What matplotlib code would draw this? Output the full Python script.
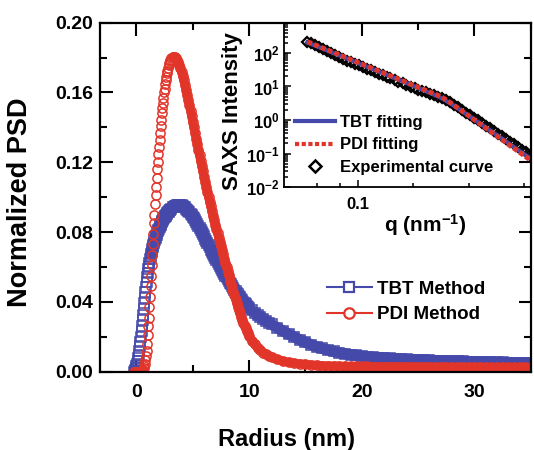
import matplotlib
matplotlib.use("Agg")
import matplotlib.pyplot as plt
from matplotlib.lines import Line2D
from matplotlib.ticker import FixedLocator, NullFormatter

# ---- pore size distribution (main panel) ----
radius_nm = [
    -0.2, -0.15, -0.1, -0.05, 0.0, 0.05, 0.1, 0.15, 0.2, 0.25, 0.3, 0.35,
    0.4, 0.45, 0.5, 0.55, 0.6, 0.65, 0.7, 0.75, 0.8, 0.85, 0.9, 0.95,
    1.0, 1.05, 1.1, 1.15, 1.2, 1.25, 1.3, 1.35, 1.4, 1.45, 1.5, 1.55,
    1.6, 1.65, 1.7, 1.75, 1.8, 1.85, 1.9, 1.95, 2.0, 2.05, 2.1, 2.15,
    2.2, 2.25, 2.3, 2.35, 2.4, 2.45, 2.5, 2.55, 2.6, 2.65, 2.7, 2.75,
    2.8, 2.85, 2.9, 2.95, 3.0,
    3.1, 3.2, 3.3, 3.4, 3.5, 3.6, 3.7, 3.8, 3.9, 4.0,
    4.1, 4.2, 4.3, 4.4, 4.5, 4.6, 4.7, 4.8, 4.9, 5.0,
    5.1, 5.2, 5.3, 5.4, 5.5, 5.6, 5.7, 5.8, 5.9, 6.0,
    6.1, 6.2, 6.3, 6.4, 6.5, 6.6, 6.7, 6.8, 6.9, 7.0,
    7.1, 7.2, 7.3, 7.4, 7.5, 7.6, 7.7, 7.8, 7.9, 8.0,
    8.1, 8.2, 8.3, 8.4, 8.5, 8.6, 8.7, 8.8, 8.9, 9.0,
    9.1, 9.2, 9.3, 9.4, 9.5, 9.6, 9.7, 9.8, 9.9, 10.0,
    10.25, 10.5, 10.75, 11.0, 11.25, 11.5, 11.75, 12.0,
    12.5, 13.0, 13.5, 14.0, 14.5, 15.0, 15.5, 16.0, 16.5, 17.0,
    17.5, 18.0, 18.5, 19.0, 19.5, 20.0, 20.5, 21.0, 21.5, 22.0,
    22.5, 23.0, 23.5, 24.0, 24.5, 25.0, 25.5, 26.0, 26.5, 27.0,
    27.5, 28.0, 28.5, 29.0, 29.5, 30.0, 30.5, 31.0, 31.5, 32.0,
    32.5, 33.0, 33.5, 34.0, 34.5, 35.0,
]

psd_tbt = [
    0.0, 0.0004, 0.001, 0.0019, 0.003, 0.0044, 0.006, 0.0078, 0.0098, 0.012, 0.0145, 0.0172,
    0.0201, 0.0231, 0.0262, 0.0294, 0.0327, 0.036, 0.0393, 0.0425, 0.0456, 0.0486, 0.0514, 0.054,
    0.0564, 0.0586, 0.0606, 0.0625, 0.0643, 0.0659, 0.0674, 0.0688, 0.0701, 0.0713, 0.0725, 0.0736,
    0.0747, 0.0757, 0.0767, 0.0777, 0.0786, 0.0795, 0.0804, 0.0812, 0.082, 0.0828, 0.0835, 0.0842,
    0.0849, 0.0856, 0.0862, 0.0868, 0.0874, 0.088, 0.0885, 0.089, 0.0895, 0.09, 0.0905, 0.0909,
    0.0913, 0.0917, 0.0921, 0.0925, 0.0929,
    0.0935, 0.0941, 0.0945, 0.0949, 0.0952, 0.0954, 0.0955, 0.0956, 0.0955, 0.0953,
    0.095, 0.0946, 0.0941, 0.0935, 0.0929, 0.0922, 0.0914, 0.0906, 0.0897, 0.0888,
    0.0878, 0.0868, 0.0857, 0.0846, 0.0835, 0.0823, 0.0811, 0.0799, 0.0787, 0.0775,
    0.0762, 0.075, 0.0737, 0.0725, 0.0712, 0.07, 0.0687, 0.0675, 0.0663, 0.0651,
    0.0639, 0.0627, 0.0615, 0.0604, 0.0593, 0.0582, 0.0571, 0.056, 0.055, 0.054,
    0.053, 0.052, 0.051, 0.05, 0.049, 0.048, 0.047, 0.0461, 0.0452, 0.0443,
    0.0434, 0.0426, 0.0418, 0.041, 0.0402, 0.0394, 0.0386, 0.0379, 0.0372, 0.0365,
    0.0351, 0.0338, 0.0325, 0.0313, 0.0302, 0.0291, 0.0281, 0.0271,
    0.0252, 0.0234, 0.0216, 0.0199, 0.0183, 0.0168, 0.0155, 0.0143, 0.0133, 0.0124,
    0.0116, 0.0109, 0.0103, 0.0098, 0.0093, 0.0089, 0.0086, 0.0083, 0.008, 0.0078,
    0.0076, 0.0074, 0.0072, 0.007, 0.0069, 0.0067, 0.0066, 0.0065, 0.0064, 0.0063,
    0.0062, 0.0061, 0.006, 0.0059, 0.0058, 0.0057, 0.0056, 0.0055, 0.0054, 0.0053,
    0.0053, 0.0052, 0.0051, 0.005, 0.005, 0.0049,
]

psd_pdi = [
    0.0, 0.0, 0.0, 0.0, 0.0, 0.0, 0.0, 0.0, 0.0, 0.0, 0.0, 0.0,
    0.0001, 0.0002, 0.0004, 0.0007, 0.0012, 0.002, 0.003, 0.0045, 0.0065, 0.009, 0.012, 0.016,
    0.021, 0.026, 0.031, 0.037, 0.043, 0.049, 0.055, 0.061, 0.067, 0.073, 0.079, 0.085,
    0.090, 0.096, 0.101, 0.106, 0.111, 0.116, 0.120, 0.125, 0.129, 0.133, 0.137, 0.141,
    0.144, 0.148, 0.151, 0.154, 0.157, 0.160, 0.162, 0.165, 0.167, 0.169, 0.171, 0.1725,
    0.174, 0.1755, 0.1767, 0.1778, 0.1787,
    0.1798, 0.1804, 0.1806, 0.1804, 0.1798, 0.1788, 0.1775, 0.1759, 0.174, 0.1719,
    0.1696, 0.1671, 0.1645, 0.1617, 0.1588, 0.1558, 0.1527, 0.1496, 0.1464, 0.1432,
    0.14, 0.1368, 0.1336, 0.1304, 0.1272, 0.124, 0.1209, 0.1178, 0.1148, 0.1118,
    0.1088, 0.1059, 0.103, 0.1002, 0.0974, 0.0947, 0.092, 0.0894, 0.0868, 0.0842,
    0.0817, 0.0792, 0.0768, 0.0744, 0.072, 0.0696, 0.0672, 0.0648, 0.0624, 0.06,
    0.0576, 0.0552, 0.0528, 0.0505, 0.0482, 0.0459, 0.0437, 0.0415, 0.0394, 0.0373,
    0.0353, 0.0334, 0.0315, 0.0297, 0.028, 0.0264, 0.0248, 0.0233, 0.0219, 0.0206,
    0.0178, 0.0156, 0.0138, 0.0123, 0.011, 0.0099, 0.009, 0.0082,
    0.007, 0.0061, 0.0054, 0.0049, 0.0045, 0.0042, 0.0039, 0.0037, 0.0035, 0.0034,
    0.0033, 0.0032, 0.0031, 0.0031, 0.003, 0.003, 0.003, 0.0029, 0.0029, 0.0029,
    0.0029, 0.0028, 0.0028, 0.0028, 0.0028, 0.0027, 0.0027, 0.0027, 0.0027, 0.0027,
    0.0027, 0.0026, 0.0026, 0.0026, 0.0026, 0.0026, 0.0026, 0.0025, 0.0025, 0.0025,
    0.0025, 0.0025, 0.0025, 0.0025, 0.0025, 0.0025,
]

method_labels = ["TBT Method", "PDI Method"]
x_ticks = [0, 10, 20, 30]
y_ticks = [0.00, 0.04, 0.08, 0.12, 0.16, 0.20]
y_tick_labels = ["0.00", "0.04", "0.08", "0.12", "0.16", "0.20"]

# ---- SAXS curve and fits (inset) ----
q_exp = [
    0.053, 0.0557, 0.0585, 0.0615, 0.0647, 0.068, 0.0714, 0.075, 0.079, 0.083,
    0.087, 0.0915, 0.096, 0.101, 0.106, 0.112, 0.117, 0.123, 0.130, 0.136,
    0.143, 0.150, 0.158, 0.166, 0.175, 0.183, 0.193, 0.203, 0.213, 0.224,
    0.235, 0.247, 0.260, 0.273, 0.287, 0.302, 0.317, 0.333, 0.350, 0.368,
    0.387, 0.407, 0.428, 0.450, 0.473, 0.497, 0.522, 0.549, 0.577, 0.606,
    0.637, 0.670, 0.704, 0.740, 0.778, 0.818, 0.860, 0.904,
]
i_exp = [
    217, 192, 170, 148.5, 129.5, 113.1, 99.0, 86.6, 75.4, 65.9,
    59.3, 52.9, 47.5, 42.4, 38.0, 33.6, 30.4, 27.2, 24.0, 21.7,
    19.4, 17.4, 15.5, 13.85, 12.3, 11.1, 9.87, 8.91, 8.09, 7.31,
    6.63, 6.00, 5.41, 4.96, 4.53, 3.95, 3.34, 2.82, 2.37, 1.99,
    1.67, 1.40, 1.175, 0.975, 0.810, 0.675, 0.563, 0.466, 0.388, 0.327,
    0.272, 0.225, 0.188, 0.156, 0.131, 0.110, 0.0925, 0.076,
]
q_fit = [0.053, 0.07, 0.1, 0.15, 0.2, 0.25, 0.27, 0.29, 0.32, 0.35, 0.45, 0.6, 0.75, 0.9]
i_tbt_fit = [205, 111, 50, 20.0, 10.4, 6.2, 5.15, 4.25, 3.05, 2.2, 0.86, 0.29, 0.122, 0.062]
i_pdi_fit = [217, 116, 52, 20.9, 10.9, 6.6, 5.57, 4.6, 3.22, 2.26, 0.84, 0.27, 0.112, 0.055]

fit_labels = ["TBT fitting", "PDI fitting", "Experimental curve"]
inset_y_ticks = [1e-2, 1e-1, 1e0, 1e1, 1e2]
inset_y_tick_labels = [r"$10^{-2}$", r"$10^{-1}$", r"$10^{0}$", r"$10^{1}$", r"$10^{2}$"]
inset_x_major = [0.1]
inset_x_major_labels = ["0.1"]
inset_x_minor = [0.06, 0.08, 0.2, 0.4, 0.8]

BLUE = "#4549AA"
RED = "#E2352A"

plt.rcParams["font.family"] = ["Liberation Sans", "DejaVu Sans"]
plt.rcParams["font.weight"] = "bold"
plt.rcParams["axes.labelweight"] = "bold"
plt.rcParams["mathtext.fontset"] = "custom"
for key in ("rm", "it", "bf", "sf"):
    plt.rcParams["mathtext." + key] = "Liberation Sans:bold"

fig = plt.figure(figsize=(5.34, 4.5), dpi=100)
fig.patch.set_facecolor("white")

# main panel
ax = fig.add_axes([0.188, 0.174, 0.806, 0.7756])

# where the symbols pile up they merge into a solid band; a wide line of
# the same colour under the symbols gives that look
tbt_band = [(r, p) for r, p in zip(radius_nm, psd_tbt) if r >= 1.3]
pdi_band = [(r, p) for r, p in zip(radius_nm, psd_pdi) if r >= 3.3]
ax.plot([r for r, _ in tbt_band], [p for _, p in tbt_band], color=BLUE,
        lw=8.0, solid_capstyle="round", solid_joinstyle="round")
ax.plot(radius_nm, psd_tbt, ls="none", marker="s", ms=7.5, mfc="none",
        mec=BLUE, mew=1.1)
ax.plot([r for r, _ in pdi_band], [p for _, p in pdi_band], color=RED,
        lw=6.4, solid_capstyle="round", solid_joinstyle="round")
ax.plot(radius_nm, psd_pdi, ls="none", marker="o", ms=6.6, mfc="none",
        mec=RED, mew=1.1)

ax.set_xlim(-3.2, 35)
ax.set_ylim(0, 0.2)
ax.set_xticks(x_ticks)
ax.xaxis.set_minor_locator(FixedLocator([5, 15, 25, 35]))
ax.set_yticks(y_ticks)
ax.set_yticklabels(y_tick_labels)
ax.yaxis.set_minor_locator(FixedLocator([0.02, 0.06, 0.10, 0.14, 0.18]))
ax.tick_params(which="both", direction="in", top=True, right=True,
               width=1.5, labelsize=14)
ax.tick_params(which="major", length=9)
ax.tick_params(which="minor", length=5)
ax.tick_params(axis="x", which="major", pad=9)
ax.tick_params(axis="y", which="major", pad=5)
for sp in ax.spines.values():
    sp.set_linewidth(1.6)

ax.set_xlabel("Radius (nm)", fontsize=17)
ax.xaxis.set_label_coords(0.433, -0.16)
ax.set_ylabel("Normalized PSD", fontsize=19.5)
ax.yaxis.set_label_coords(-0.157, 0.486)

method_handles = [
    Line2D([], [], color=BLUE, lw=1.5, marker="s", ms=6.5, mfc="white", mec=BLUE, mew=1.6),
    Line2D([], [], color=RED, lw=1.5, marker="o", ms=7.5, mfc="white", mec=RED, mew=1.6),
]
ax.legend(method_handles, method_labels, loc="center left",
          bbox_to_anchor=(0.526, 0.2), frameon=False, fontsize=13.5,
          handlelength=2.4, handletextpad=0.3, labelspacing=0.45,
          borderpad=0, borderaxespad=0)

# inset: SAXS intensity and fits, transparent so the outer ticks stay visible
ax_in = fig.add_axes([0.532, 0.5844, 0.462, 0.3652])
ax_in.set_facecolor("none")
ax_in.set_xscale("log")
ax_in.set_yscale("log")
ax_in.plot(q_exp, i_exp, ls="none", marker="D", ms=5, mfc="none",
           mec="black", mew=1.6)
ax_in.plot(q_fit, i_tbt_fit, color=BLUE, lw=3)
ax_in.plot(q_fit, i_pdi_fit, color=RED, lw=3.5, ls=(0, (1, 0.5)))
ax_in.set_xlim(0.0396, 0.871)
ax_in.set_ylim(0.01, 800)

ax_in.set_xticks(inset_x_major)
ax_in.set_xticklabels(inset_x_major_labels)
ax_in.xaxis.set_minor_locator(FixedLocator(inset_x_minor))
ax_in.xaxis.set_minor_formatter(NullFormatter())
ax_in.set_yticks(inset_y_ticks)
ax_in.set_yticklabels(inset_y_tick_labels)
ax_in.yaxis.set_minor_formatter(NullFormatter())
ax_in.tick_params(which="both", direction="in", top=False, right=False,
                  width=1.1, labelsize=12)
ax_in.tick_params(which="major", length=5)
ax_in.tick_params(which="minor", length=3)
ax_in.tick_params(axis="x", which="both", pad=7)
ax_in.tick_params(axis="y", which="both", pad=3)
for sp in ax_in.spines.values():
    sp.set_linewidth(1.3)

ax_in.set_xlabel(r"q (nm$^{-1}$)", fontsize=15)
ax_in.xaxis.set_label_coords(0.571, -0.15)
ax_in.set_ylabel("SAXS Intensity", fontsize=16)
ax_in.yaxis.set_label_coords(-0.166, 0.463)

fit_handles = [
    Line2D([], [], color=BLUE, lw=3),
    Line2D([], [], color=RED, lw=3, ls=(0, (1, 0.6))),
    Line2D([], [], ls="none", marker="D", ms=6, mfc="white", mec="black", mew=1.8),
]
ax_in.legend(fit_handles, fit_labels, loc="center left",
             bbox_to_anchor=(0.0445, 0.256), frameon=False, fontsize=12,
             handlelength=2.4, handletextpad=0.3, labelspacing=0.45,
             borderpad=0, borderaxespad=0)

fig.savefig("out.png", dpi=100, facecolor="white")
